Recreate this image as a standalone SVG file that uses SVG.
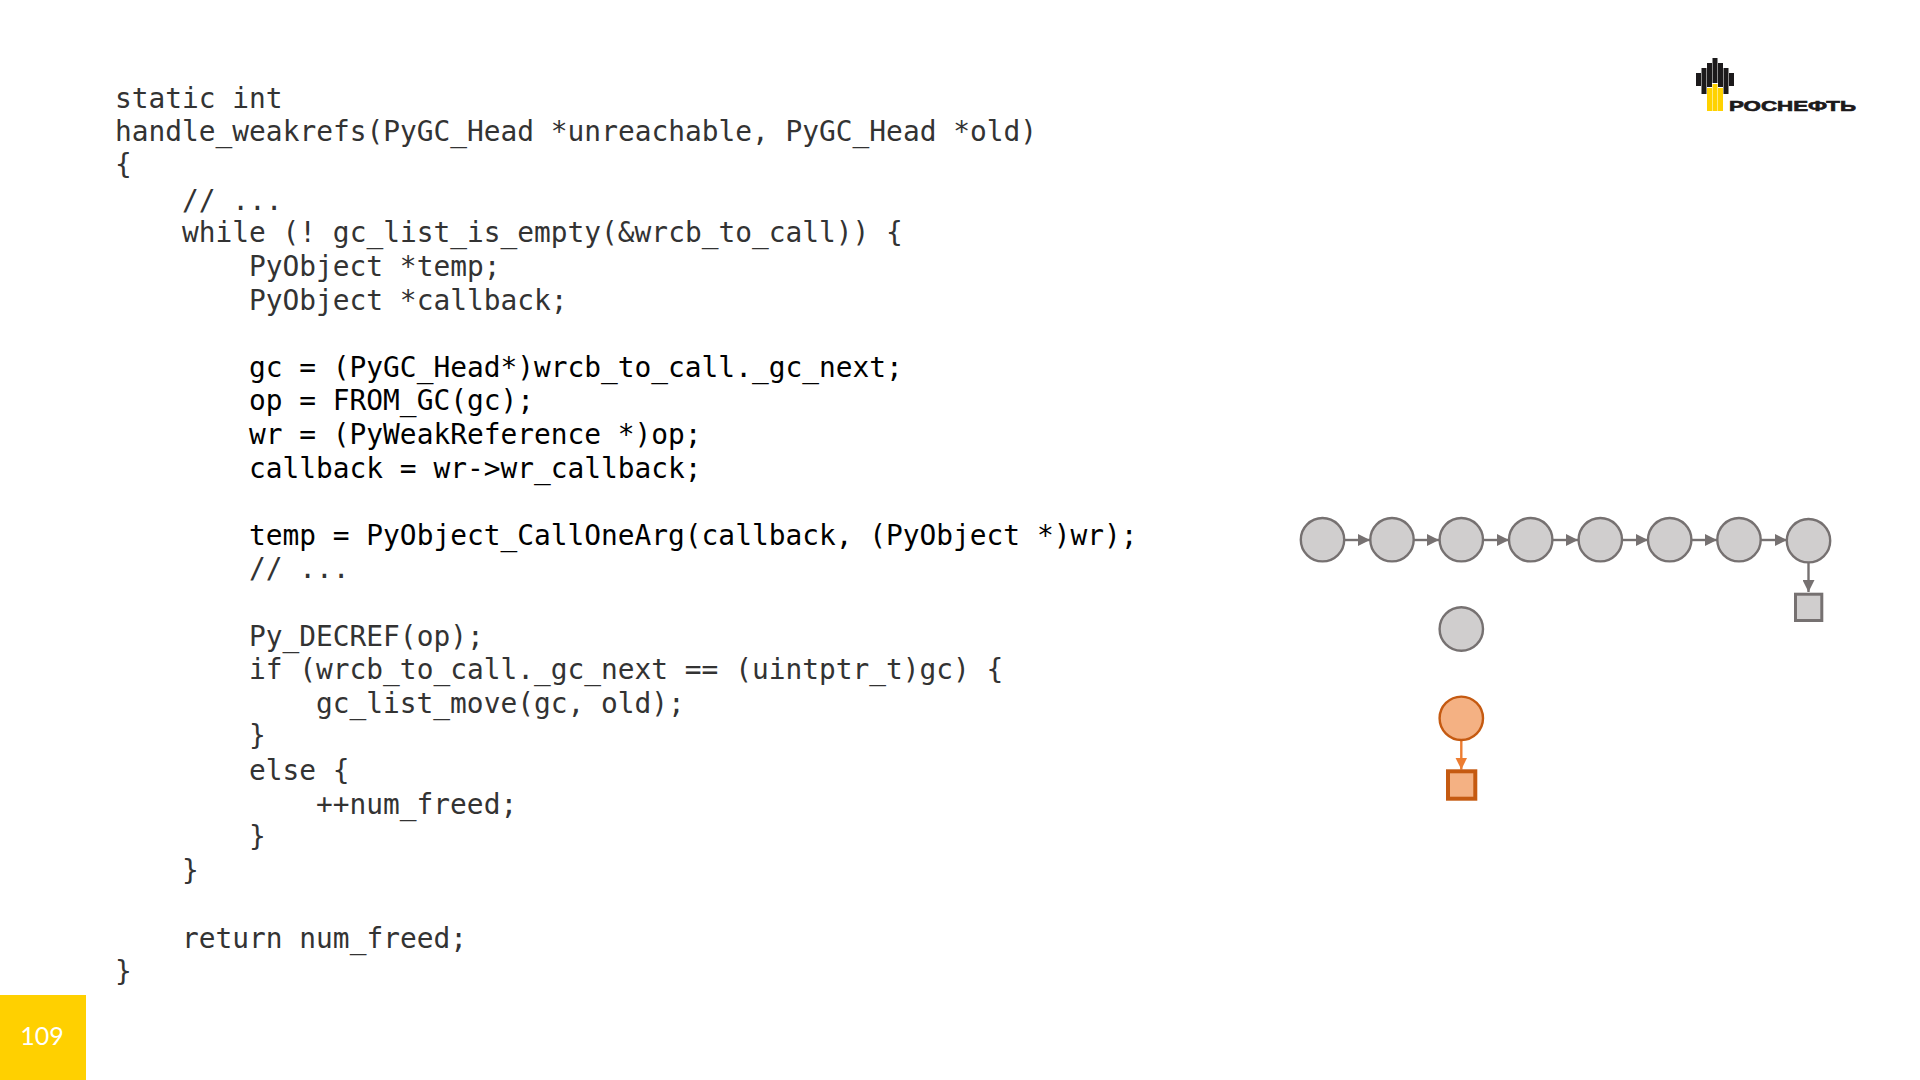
<svg xmlns="http://www.w3.org/2000/svg" width="1920" height="1080" viewBox="0 0 1920 1080">
<defs>
<marker id="ag" markerWidth="12" markerHeight="12" refX="12" refY="6" orient="auto" markerUnits="userSpaceOnUse"><path d="M0 0L12 6L0 12Z" fill="#767171"/></marker>
<marker id="ao" markerWidth="12" markerHeight="12" refX="12" refY="6" orient="auto" markerUnits="userSpaceOnUse"><path d="M0 0L12 6L0 12Z" fill="#ed7d31"/></marker>
</defs>
<style>
text.c{font-family:"DejaVu Sans Mono","Liberation Mono",monospace;font-size:27.85px;fill:#333}
text.h{fill:#000}
.g{fill:#d0cece;stroke:#767171;stroke-width:2.4}
.o{fill:#f4b183;stroke:#c55a11;stroke-width:2.4}
.lg{stroke:#767171;stroke-width:2.4;fill:none;marker-end:url(#ag)}
.lo{stroke:#ed7d31;stroke-width:2.4;fill:none;marker-end:url(#ao)}
</style>
<rect width="1920" height="1080" fill="#fff"/>
<g id="code">
<text class="c" x="115" y="108">static int</text>
<text class="c" x="115" y="141">handle_weakrefs(PyGC_Head *unreachable, PyGC_Head *old)</text>
<text class="c" x="115" y="174">{</text>
<text class="c" x="182" y="210">// ...</text>
<text class="c" x="182" y="242">while (! gc_list_is_empty(&amp;wrcb_to_call)) {</text>
<text class="c" x="249" y="276">PyObject *temp;</text>
<text class="c" x="249" y="310">PyObject *callback;</text>
<text class="c h" x="249" y="377">gc = (PyGC_Head*)wrcb_to_call._gc_next;</text>
<text class="c h" x="249" y="410">op = FROM_GC(gc);</text>
<text class="c h" x="249" y="444">wr = (PyWeakReference *)op;</text>
<text class="c h" x="249" y="478">callback = wr-&gt;wr_callback;</text>
<text class="c h" x="249" y="545">temp = PyObject_CallOneArg(callback, (PyObject *)wr);</text>
<text class="c" x="249" y="578">// ...</text>
<text class="c" x="249" y="646">Py_DECREF(op);</text>
<text class="c" x="249" y="679">if (wrcb_to_call._gc_next == (uintptr_t)gc) {</text>
<text class="c" x="316" y="713">gc_list_move(gc, old);</text>
<text class="c" x="249" y="745">}</text>
<text class="c" x="249" y="780">else {</text>
<text class="c" x="316" y="814">++num_freed;</text>
<text class="c" x="249" y="846">}</text>
<text class="c" x="182" y="880">}</text>
<text class="c" x="182" y="948">return num_freed;</text>
<text class="c" x="115" y="981">}</text>
</g>
<g id="connectors">
<path class="lg" d="M1344 540H1370"/><path class="lg" d="M1413 540H1439"/><path class="lg" d="M1483 540H1509"/><path class="lg" d="M1552 540H1578"/><path class="lg" d="M1622 540H1648"/><path class="lg" d="M1691 540H1717"/><path class="lg" d="M1761 540H1787"/>
<path class="lg" d="M1808.500 562V592"/>
<path class="lo" d="M1461.300 740V769.500"/>
</g>
<g id="n1"><circle class="g" cx="1322.500" cy="539.700" r="21.700"/></g>
<g id="n2"><circle class="g" cx="1392" cy="539.700" r="21.700"/></g>
<g id="n3"><circle class="g" cx="1461.300" cy="539.700" r="21.700"/></g>
<g id="n4"><circle class="g" cx="1530.700" cy="539.700" r="21.700"/></g>
<g id="n5"><circle class="g" cx="1600.300" cy="539.700" r="21.700"/></g>
<g id="n6"><circle class="g" cx="1669.700" cy="539.700" r="21.700"/></g>
<g id="n7"><circle class="g" cx="1739" cy="539.700" r="21.700"/></g>
<g id="n8"><circle class="g" cx="1808.500" cy="540.700" r="21.700"/></g>
<g id="s8"><rect class="g" x="1795.500" y="594.200" width="26.300" height="26.300" style="stroke-width:3"/></g>
<g id="n9"><circle class="g" cx="1461.300" cy="629" r="21.700"/></g>
<g id="n10"><circle class="o" cx="1461.300" cy="718.300" r="21.700"/></g>
<g id="s10"><rect class="o" x="1448" y="771.300" width="27.300" height="27.400" style="stroke-width:4"/></g>
<g id="logo">
<path fill="#1c1a1b" d="M1696 73h5v13h-5zM1701.500 68h5v26h-5zM1707 63h5v24h-5zM1712.500 58h5v25h-5zM1718 63h5v24h-5zM1723.500 68h5v26h-5zM1729 73h5v13h-5z"/>
<path fill="#ffd200" d="M1707 88h5v23h-5zM1712.500 84h5v27h-5zM1718 88h5v23h-5z"/>
<text x="1729" y="110.500" font-family="Liberation Sans,sans-serif" font-weight="700" font-size="14" fill="#1c1a1b" stroke="#1c1a1b" stroke-width="0.6" textLength="127" lengthAdjust="spacingAndGlyphs">РОСНЕФТЬ</text>
</g>
<g id="page"><rect x="0" y="995" width="86" height="85" fill="#ffd000"/><text x="42" y="1045" text-anchor="middle" font-family="Lato,sans-serif" font-size="25" fill="#fff">109</text></g>
</svg>
